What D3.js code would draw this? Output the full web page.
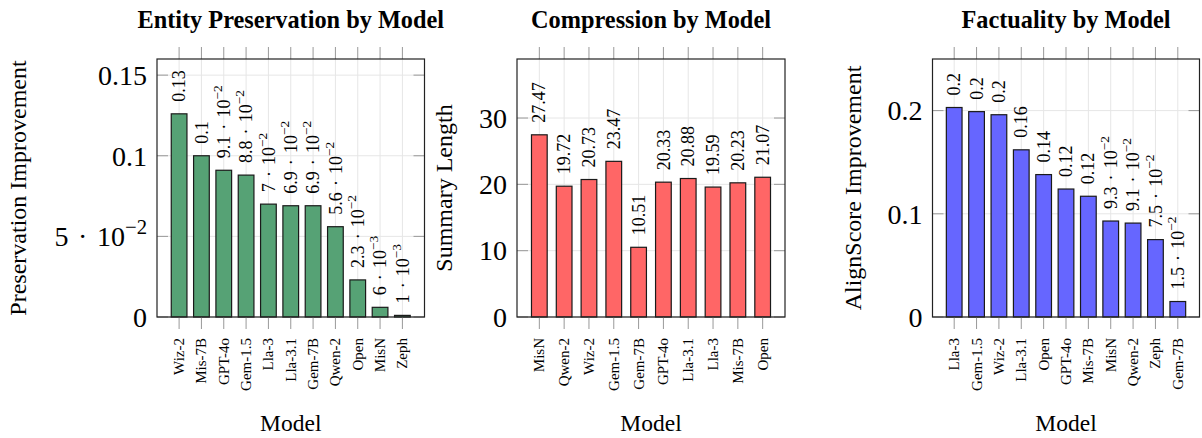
<!DOCTYPE html>
<html>
<head>
<meta charset="utf-8">
<script src="https://cdn.jsdelivr.net/npm/d3@7"></script>
<style>
  html, body { margin: 0; padding: 0; background: #fff; }
  svg { display: block; }
  text { font-family: "Liberation Serif", "Times New Roman", serif; fill: #000; }
</style>
</head>
<body>
<svg id="chart" width="1202" height="438"></svg>
<script>
// ---------- data ----------
const entityModels = ["Wiz-2", "Mis-7B", "GPT-4o", "Gem-1.5", "Lla-3", "Lla-3.1", "Gem-7B", "Qwen-2", "Open", "MisN", "Zeph"];
const entityValues = [0.126, 0.100, 0.091, 0.088, 0.070, 0.069, 0.069, 0.056, 0.023, 0.006, 0.001];
const entityTicks = [0, 0.05, 0.1, 0.15];

const compressionModels = ["MisN", "Qwen-2", "Wiz-2", "Gem-1.5", "Gem-7B", "GPT-4o", "Lla-3.1", "Lla-3", "Mis-7B", "Open"];
const compressionValues = [27.47, 19.72, 20.73, 23.47, 10.51, 20.33, 20.88, 19.59, 20.23, 21.07];
const compressionTicks = [0, 10, 20, 30];

const factualityModels = ["Lla-3", "Gem-1.5", "Wiz-2", "Lla-3.1", "Open", "GPT-4o", "Mis-7B", "MisN", "Qwen-2", "Zeph", "Gem-7B"];
const factualityValues = [0.203, 0.199, 0.196, 0.162, 0.138, 0.124, 0.117, 0.093, 0.091, 0.075, 0.015];
const factualityTicks = [0, 0.1, 0.2];

// ---------- pgfplots-like number formatting ----------
function trimZeros(s) { return s.indexOf(".") >= 0 ? s.replace(/0+$/, "").replace(/\.$/, "") : s; }
function fmt(v) {
  if (v === 0) return { main: "0", exp: null };
  if (Math.abs(v) >= 0.1) return { main: trimZeros(v.toFixed(2)), exp: null };
  let e = Math.floor(Math.log10(Math.abs(v)));
  let m = +(v / Math.pow(10, e)).toFixed(1);
  if (m >= 10) { m = m / 10; e += 1; }
  return { main: trimZeros(m.toFixed(1)), exp: "\u2212" + Math.abs(e) };
}
function writeLabel(sel, v) {
  const f = fmt(v);
  sel.text(f.main);
  if (f.exp) {
    sel.append("tspan").attr("dx", "0.34em").text("\u00B7");
    sel.append("tspan").attr("dx", "0.34em").text("10");
    sel.append("tspan").attr("font-size", "74%").attr("dy", "-0.6em").text(f.exp);
  }
}

// ---------- drawing ----------
const svg = d3.select("#chart");
const TOP = 59, BOTTOM = 317, BARW = 15.7;

function panel(cfg) {
  const g = svg.append("g");
  const x = d3.scalePoint().domain(cfg.models).range([cfg.left, cfg.right]).padding(cfg.pad);
  const y = d3.scaleLinear().domain([0, cfg.ymax]).range([BOTTOM, TOP]);

  // grid
  g.append("g").selectAll("line").data(cfg.models).join("line")
    .attr("x1", d => x(d)).attr("x2", d => x(d)).attr("y1", TOP).attr("y2", BOTTOM)
    .attr("stroke", "#e6e6e6").attr("stroke-width", 1);
  g.append("g").selectAll("line").data(cfg.ticks).join("line")
    .attr("x1", cfg.left).attr("x2", cfg.right).attr("y1", d => y(d)).attr("y2", d => y(d))
    .attr("stroke", "#e6e6e6").attr("stroke-width", 1);

  // bars
  g.append("g").selectAll("rect").data(cfg.values).join("rect")
    .attr("x", (d, i) => x(cfg.models[i]) - BARW / 2)
    .attr("width", BARW)
    .attr("y", d => y(d))
    .attr("height", d => y(0) - y(d))
    .attr("fill", cfg.color)
    .attr("stroke", "#1a1a1a").attr("stroke-width", 1.2);

  // value labels
  g.append("g").selectAll("text").data(cfg.values).join("text")
    .attr("transform", (d, i) => `translate(${x(cfg.models[i])},${y(d) - 12}) rotate(-90)`)
    .attr("dy", "0.34em")
    .attr("font-size", 18)
    .attr("text-anchor", "start")
    .each(function (d) { writeLabel(d3.select(this), d); });

  // x ticks (outside, top and bottom)
  g.append("g").selectAll("line").data(cfg.models).join("line")
    .attr("x1", d => x(d)).attr("x2", d => x(d)).attr("y1", TOP - 12).attr("y2", TOP)
    .attr("stroke", "#999").attr("stroke-width", 1);
  g.append("g").selectAll("line").data(cfg.models).join("line")
    .attr("x1", d => x(d)).attr("x2", d => x(d)).attr("y1", BOTTOM).attr("y2", BOTTOM + 12)
    .attr("stroke", "#999").attr("stroke-width", 1);

  // y ticks (inside, left and right)
  g.append("g").selectAll("line").data(cfg.ticks).join("line")
    .attr("x1", cfg.left).attr("x2", cfg.left + 11).attr("y1", d => y(d)).attr("y2", d => y(d))
    .attr("stroke", "#999").attr("stroke-width", 1);
  g.append("g").selectAll("line").data(cfg.ticks).join("line")
    .attr("x1", cfg.right - 11).attr("x2", cfg.right).attr("y1", d => y(d)).attr("y2", d => y(d))
    .attr("stroke", "#999").attr("stroke-width", 1);

  // frame
  g.append("rect").attr("x", cfg.left).attr("y", TOP)
    .attr("width", cfg.right - cfg.left).attr("height", BOTTOM - TOP)
    .attr("fill", "none").attr("stroke", "#222").attr("stroke-width", 1.2);

  // y tick labels
  g.append("g").selectAll("text").data(cfg.ticks).join("text")
    .attr("x", cfg.left - 10).attr("y", d => y(d)).attr("dy", "0.35em")
    .attr("text-anchor", "end").attr("font-size", 28)
    .each(function (d) { writeLabel(d3.select(this), d); });

  // x tick labels
  g.append("g").selectAll("text").data(cfg.models).join("text")
    .attr("transform", d => `translate(${x(d)},${BOTTOM + 21}) rotate(-90)`)
    .attr("dy", "0.33em").attr("text-anchor", "end").attr("font-size", 15)
    .text(d => d);

  // title
  g.append("text").attr("x", (cfg.left + cfg.right) / 2).attr("y", 28)
    .attr("text-anchor", "middle").attr("font-size", 24.3).attr("font-weight", "bold")
    .text(cfg.title);

  // axis labels
  g.append("text").attr("x", (cfg.left + cfg.right) / 2).attr("y", 431)
    .attr("text-anchor", "middle").attr("font-size", 23.5).text("Model");
  g.append("text")
    .attr("transform", `translate(${cfg.ylabelX},${(TOP + BOTTOM) / 2}) rotate(-90)`)
    .attr("text-anchor", "middle").attr("font-size", 24).text(cfg.ylabel);
}

panel({ models: entityModels, values: entityValues, ticks: entityTicks, ymax: 0.16,
  left: 157, right: 424.5, pad: 0.99, color: "#56a275",
  title: "Entity Preservation by Model", ylabel: "Preservation Improvement", ylabelX: 26 });
panel({ models: compressionModels, values: compressionValues, ticks: compressionTicks, ymax: 38.9,
  left: 517, right: 785, pad: 0.9, color: "#ff6666",
  title: "Compression by Model", ylabel: "Summary Length", ylabelX: 452 });
panel({ models: factualityModels, values: factualityValues, ticks: factualityTicks, ymax: 0.25,
  left: 932.5, right: 1199.5, pad: 0.97, color: "#6666ff",
  title: "Factuality by Model", ylabel: "AlignScore Improvement", ylabelX: 861 });
</script>
</body>
</html>
